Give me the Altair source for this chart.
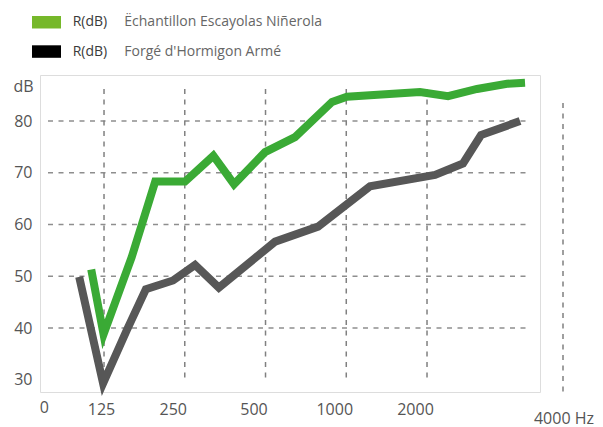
import altair as alt
import pandas as pd

# ---- data ----
series_names = ["Ëchantillon Escayolas Niñerola", "Forgé d'Hormigon Armé"]
line_colors = ["#3aaa35", "#575757"]
legend_colors = ["#76b82a", "#000000"]

green_freq = [112, 124.5, 158.5, 194, 250.5, 319.5, 381.5, 498, 644, 885, 1006, 1883, 2395, 3072, 3975, 4639]
green_db = [51.3, 38.8, 53.7, 68.3, 68.3, 73.3, 67.8, 74.0, 76.9, 83.7, 84.7, 85.6, 84.8, 86.2, 87.2, 87.4]

grey_freq = [101, 124, 152, 179, 226, 273, 335, 543, 785, 1226, 2142, 2724, 3179, 4444]
grey_db = [49.9, 29.3, 39.6, 47.5, 49.2, 52.2, 47.8, 56.7, 59.6, 67.4, 69.6, 71.8, 77.3, 80.0]

x_ticks = [125, 250, 500, 1000, 2000]
x_tick_labels = ["125", "250", "500", "1000", "2000"]
y_ticks = [30, 40, 50, 60, 70, 80]
y_grid = [40, 50, 60, 70, 80]

# ---- tables ----
rows = []
for name, fs, ds in [(series_names[0], green_freq, green_db), (series_names[1], grey_freq, grey_db)]:
    for i, (f, d) in enumerate(zip(fs, ds)):
        rows.append({"series": name, "f": f, "db": d, "i": i})
lines_df = pd.DataFrame(rows)
xgrid_df = pd.DataFrame({"f": x_ticks})
ygrid_df = pd.DataFrame({"db": y_grid})

FONT = "Open Sans"
TXT = "#555555"
GRID = "#8e8e8e"

xscale = alt.Scale(type="log", base=2, domain=[72.15, 5275], nice=False)
yscale = alt.Scale(domain=[27.64, 88.9], nice=False, zero=False)

label_map = "{" + ",".join(f"'{v}':'{l}'" for v, l in zip(x_ticks, x_tick_labels)) + "}"
xaxis = alt.Axis(
    values=x_ticks, labelExpr=f"{label_map}[''+datum.value]", title=None,
    grid=False, ticks=False, domain=False, labelPadding=9,
    labelFontSize=16, labelColor=TXT, labelFont=FONT,
    labelOffset={"condition": {"test": "datum.value == 125", "value": -3}, "value": -12},
)
yaxis = alt.Axis(
    values=y_ticks, title="dB", titleAngle=0, titleX=-17, titleY=11,
    titleAlign="center", titleBaseline="middle", titleFontSize=16,
    titleFontWeight="normal", titleColor=TXT, titleFont=FONT,
    grid=False, ticks=False, domain=False, labelPadding=8,
    labelFontSize=16, labelColor=TXT, labelFont=FONT,
)

X = lambda: alt.X("f:Q", scale=xscale, axis=xaxis)
Y = lambda: alt.Y("db:Q", scale=yscale, axis=yaxis)

hgrid = alt.Chart(ygrid_df).mark_rule(strokeDash=[5, 5.5], strokeWidth=1.5, color=GRID).encode(
    y=Y(), x=alt.value(8), x2=alt.value(490)
)
vgrid = alt.Chart(xgrid_df).mark_rule(strokeDash=[5, 5.5], strokeWidth=1.5, color="#808080").encode(
    x=X(), y=alt.value(14), y2=alt.value(307)
)
vgrid4000 = alt.Chart(pd.DataFrame({"a": [0]})).mark_rule(
    strokeDash=[5, 5.5], strokeWidth=1.5, color="#808080"
).encode(x=alt.value(523), y=alt.value(28), y2=alt.value(320))

lines = alt.Chart(lines_df).mark_line(strokeWidth=8, strokeJoin="miter", strokeCap="butt").encode(
    x=X(), y=Y(),
    color=alt.Color("series:N", scale=alt.Scale(domain=series_names, range=line_colors), legend=None),
    order=alt.Order("i:Q"),
)

# extra axis labels
lab0 = alt.Chart(pd.DataFrame({"t": ["0"]})).mark_text(
    font=FONT, fontSize=16, color=TXT, baseline="middle", align="center"
).encode(text="t:N", x=alt.value(4.3), y=alt.value(333))
lab4000 = alt.Chart(pd.DataFrame({"t": ["4000 Hz"]})).mark_text(
    font=FONT, fontSize=16, color=TXT, baseline="middle", align="right"
).encode(text="t:N", x=alt.value(554), y=alt.value(343.5))

# manual legend
leg_layers = []
for k, (name, col) in enumerate(zip(series_names, legend_colors)):
    top = -59 if k == 0 else -29.7
    cy = top + 6.3
    d = pd.DataFrame({"name": [name], "r": ["R(dB)"]})
    leg_layers.append(
        alt.Chart(d).mark_rect(color=col).encode(
            x=alt.value(-8), x2=alt.value(21), y=alt.value(top), y2=alt.value(top + 12.5)
        )
    )
    leg_layers.append(
        alt.Chart(d).mark_text(font=FONT, fontSize=14, color="#3a3a3a", align="left", baseline="middle").encode(
            text="r:N", x=alt.value(32.7), y=alt.value(cy)
        )
    )
    leg_layers.append(
        alt.Chart(d).mark_text(font=FONT, fontSize=14, color="#666666", align="left", baseline="middle").encode(
            text="name:N", x=alt.value(84.3), y=alt.value(cy)
        )
    )

chart = alt.layer(hgrid, vgrid, vgrid4000, lines, lab0, lab4000, *leg_layers).properties(
    width=500, height=317,
    padding={"left": 32, "top": 67, "right": 55, "bottom": 35},
    autosize=alt.AutoSizeParams(type="none"),
).configure_view(stroke=None, fill="#f9f9f9").configure(font=FONT)

chart.save("out.html", embed_options={"renderer": "svg", "actions": False})
